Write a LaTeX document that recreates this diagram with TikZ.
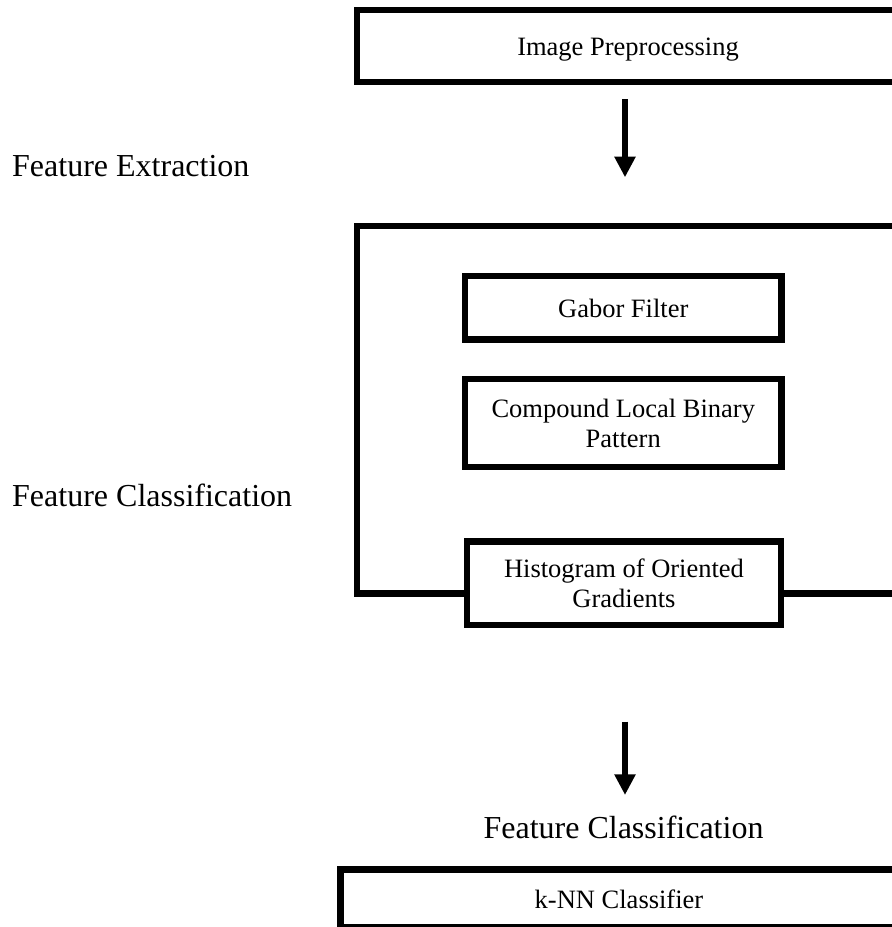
\documentclass[tikz,border=0pt]{standalone}
\usepackage{fontspec}
\setmainfont{Liberation Serif}
\usetikzlibrary{arrows.meta}
\newcommand{\boxfont}{\fontsize{26.5bp}{30bp}\selectfont}
\newcommand{\bigfont}{\fontsize{32bp}{37bp}\selectfont}
\tikzset{
  stagebox/.style={draw=black, line width=6.7bp, inner sep=0pt, outer sep=0pt,
    font=\boxfont, align=center},
  oneline/.style={text height=19bp, text depth=0bp},
  framebox/.style={draw=black, line width=6.7bp, inner sep=0pt, outer sep=0pt},
  flowarrow/.style={line width=6.7bp, -{Triangle[length=20.6bp, width=20bp]}},
  sidelabel/.style={font=\bigfont, inner sep=0pt, anchor=base west},
  steplabel/.style={font=\bigfont, inner sep=0pt, anchor=base}
}
\begin{document}
\begin{tikzpicture}[x=1bp, y=-1bp]
\useasboundingbox (0,0) rectangle (892,927);
\clip (0,0) rectangle (892,927);
\fill[white] (0,0) rectangle (892,927);

% Image preprocessing box (right side runs off the page)
\node[stagebox, oneline, minimum width=542bp, minimum height=72bp] (pre) at (628,46) {Image Preprocessing};

% arrow 1
\coordinate (a1s) at (625,99);
\coordinate (a1e) at (625,177.3);
\draw[flowarrow] (a1s) -- (a1e);

% left labels
\node[sidelabel] (lblext) at (12,176) {Feature Extraction};
\node[sidelabel] (lblcls) at (12,506.7) {Feature Classification};

% feature extraction frame
\node[framebox, minimum width=548bp, minimum height=367.3bp] (frame) at (631,409.65) {};

% inner boxes
\node[stagebox, oneline, minimum width=316.5bp, minimum height=63.7bp] (gabor) at (623.25,307.85) {Gabor Filter};
\node[stagebox, minimum width=316.5bp, minimum height=88bp] (clbp) at (623.25,423) {Compound Local Binary\\Pattern};
\node[stagebox, fill=white, minimum width=314bp, minimum height=83.5bp] (hog) at (624,583.25) {Histogram of Oriented\\Gradients};

% arrow 2
\coordinate (a2s) at (625,721.7);
\coordinate (a2e) at (625,795);
\draw[flowarrow] (a2s) -- (a2e);

% bottom label
\node[steplabel] (lblcls2) at (623.5,838) {Feature Classification};

% k-NN box
\node[stagebox, text height=21bp, text depth=0bp, minimum width=556.6bp, minimum height=57.3bp] (knn) at (619,898.35) {k-NN Classifier};
\end{tikzpicture}
\end{document}
